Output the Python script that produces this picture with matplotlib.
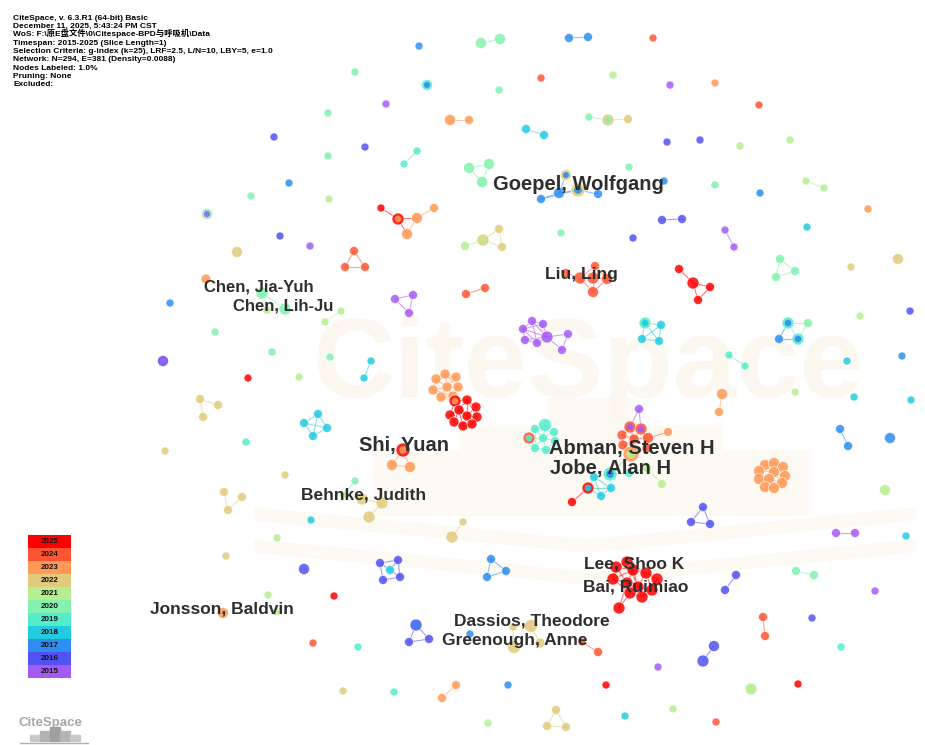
import matplotlib
matplotlib.use("Agg")
import matplotlib.pyplot as plt
from matplotlib.patches import Circle, Rectangle, Polygon

# time slices and their colours (legend, top to bottom)
years = [2025, 2024, 2023, 2022, 2021, 2020, 2019, 2018, 2017, 2016, 2015]
year_colors = ["#FF0000", "#FF5533", "#FF9955", "#E2CA7C", "#B8EE92", "#82F2AE",
               "#55ECCB", "#22CCE0", "#2E8EF0", "#5252F2", "#A65AF4"]
col = dict(zip(years, year_colors))

header = [
    "CiteSpace, v. 6.3.R1 (64-bit) Basic",
    "December 11, 2025, 5:43:24 PM CST",
    r"WoS: F:\原E盘文件\0\Citespace-BPD与呼吸机\Data",
    "Timespan: 2015-2025 (Slice Length=1)",
    "Selection Criteria: g-index (k=25), LRF=2.5, L/N=10, LBY=5, e=1.0",
    "Network: N=294, E=381 (Density=0.0088)",
    "Nodes Labeled: 1.0%",
    "Pruning: None",
    "Excluded:",
]

# node = (x, y, year, radius[, inner ring year]) in layout pixels
singles = [
    (419, 46, 2017, 4), (653, 38, 2024, 4), (427, 85, 2019, 5.5, 2017), (499, 90, 2020, 4),
    (541, 78, 2024, 4), (613, 75, 2021, 4), (670, 85, 2015, 4), (355, 72, 2020, 4),
    (386, 104, 2015, 4), (328, 113, 2020, 4), (274, 137, 2016, 4), (365, 147, 2016, 4),
    (328, 156, 2020, 4), (289, 183, 2017, 4), (251, 196, 2020, 4), (329, 199, 2021, 4),
    (207, 214, 2020, 5.5, 2015), (280, 236, 2016, 4), (310, 246, 2015, 4), (237, 252, 2022, 5.5),
    (206, 279, 2023, 5), (170, 303, 2017, 4), (215, 332, 2020, 4), (272, 352, 2020, 4),
    (330, 357, 2020, 4), (163, 361, 2016, 5.5, 2015), (248, 378, 2025, 4), (299, 377, 2021, 4),
    (667, 142, 2016, 4), (700, 140, 2016, 4), (629, 167, 2020, 4), (561, 233, 2020, 4),
    (633, 238, 2016, 4), (715, 83, 2023, 4), (759, 105, 2024, 4), (740, 146, 2021, 4),
    (790, 140, 2021, 4), (715, 185, 2020, 4), (760, 193, 2017, 4), (868, 209, 2023, 4),
    (807, 227, 2018, 4), (851, 267, 2022, 4), (898, 259, 2022, 5.5), (860, 316, 2021, 4),
    (910, 311, 2016, 4), (847, 361, 2018, 4), (902, 356, 2017, 4), (246, 442, 2019, 4),
    (165, 451, 2022, 4), (285, 475, 2022, 4), (311, 520, 2018, 4), (277, 538, 2021, 4),
    (226, 556, 2022, 4), (304, 569, 2016, 5.5), (268, 595, 2021, 4), (334, 596, 2025, 4),
    (223, 613, 2023, 5.5), (276, 612, 2021, 4), (313, 643, 2024, 4), (358, 647, 2019, 4),
    (343, 691, 2022, 4), (394, 692, 2019, 4), (470, 634, 2017, 4), (658, 667, 2015, 4),
    (508, 685, 2017, 4), (606, 685, 2025, 4), (488, 723, 2021, 4), (625, 716, 2018, 4),
    (673, 709, 2021, 4), (795, 392, 2021, 4), (854, 397, 2018, 4), (911, 400, 2018, 4),
    (890, 438, 2017, 5.5), (885, 490, 2021, 5.5), (906, 536, 2018, 4), (875, 591, 2015, 4),
    (812, 618, 2016, 4), (841, 647, 2019, 4), (751, 689, 2021, 6, 2021), (798, 684, 2025, 4),
    (716, 722, 2024, 4),
]

pairs = [
    ((481, 43, 2020, 5.5), (500, 39, 2020, 5.5)),
    ((569, 38, 2017, 4.5), (588, 37, 2017, 4.5)),
    ((450, 120, 2023, 5.5), (469, 120, 2023, 4.5)),
    ((526, 129, 2018, 4.5), (544, 135, 2018, 4.5)),
    ((417, 151, 2019, 4), (404, 164, 2019, 4)),
    ((662, 220, 2016, 4.5), (682, 219, 2016, 4.5)),
    ((466, 294, 2024, 4.5), (485, 288, 2024, 4.5)),
    ((806, 181, 2021, 4), (824, 188, 2021, 4)),
    ((725, 230, 2015, 4), (734, 247, 2015, 4)),
    ((729, 355, 2019, 4), (745, 366, 2019, 4)),
    ((371, 361, 2018, 4), (364, 378, 2018, 4)),
    ((341, 311, 2021, 4), (325, 322, 2021, 4)),
    ((722, 394, 2023, 5.5), (719, 412, 2023, 4.5)),
    ((840, 429, 2017, 4.5), (848, 446, 2017, 4.5)),
    ((836, 533, 2015, 4.5), (855, 533, 2015, 4.5)),
    ((736, 575, 2016, 4.5), (725, 590, 2016, 4.5)),
    ((796, 571, 2020, 4.5), (814, 575, 2020, 4.5)),
    ((763, 617, 2024, 4.5), (765, 636, 2024, 4.5)),
    ((714, 646, 2016, 5.5), (703, 661, 2016, 6)),
    ((456, 685, 2023, 4.5), (442, 698, 2023, 4.5)),
    ((463, 522, 2022, 4), (452, 537, 2022, 6)),
    ((582, 642, 2024, 4), (598, 652, 2024, 4.5)),
]

# small groups: (nodes, edges by local index; edge colour = first node's year)
tri_2024 = ([(354, 251, 2024, 4.5), (345, 267, 2024, 4.5), (365, 267, 2024, 4.5)],
            [(0, 1), (1, 2), (0, 2)])
red_orange = ([(381, 208, 2025, 4), (398, 219, 2025, 6, 2023), (417, 218, 2023, 5.5),
               (434, 208, 2023, 4.5), (407, 234, 2023, 5.5)],
              [(0, 1), (1, 2), (2, 3), (1, 4), (2, 4)])
khaki_top = ([(589, 117, 2020, 4), (608, 120, 2022, 6, 2020), (628, 119, 2022, 4.5)],
             [(0, 1), (1, 2)])
mint_tri = ([(469, 168, 2020, 5.5), (489, 164, 2020, 5.5), (482, 182, 2020, 5.5)],
            [(0, 1), (1, 2), (0, 2)])
goepel = ([(566, 175, 2022, 5.5, 2017), (559, 193, 2017, 5.5), (578, 190, 2022, 7, 2017),
           (541, 199, 2017, 4.5), (598, 194, 2017, 4.5), (664, 181, 2017, 4)],
          [(1, 0), (1, 2), (1, 3), (4, 2), (3, 2)])
khaki_mid = ([(483, 240, 2022, 6, 2021), (499, 229, 2022, 4.5), (502, 247, 2022, 4.5),
              (465, 246, 2021, 4.5)],
             [(0, 1), (1, 2), (0, 2), (3, 0)])
chen = ([(262, 293, 2020, 6), (285, 309, 2020, 6), (267, 310, 2021, 4)],
        [(0, 1), (0, 2)])
liu = ([(595, 266, 2024, 4.5), (580, 278, 2024, 6), (593, 278, 2024, 6), (607, 279, 2024, 5.5),
        (593, 292, 2024, 5.5), (566, 273, 2024, 4.5)],
       [(0, 2), (1, 2), (2, 3), (2, 4), (1, 4), (3, 4), (1, 5), (0, 1), (0, 3)])
red_right = ([(679, 269, 2025, 4.5), (693, 283, 2025, 6), (698, 300, 2025, 4.5), (710, 287, 2025, 4.5)],
             [(0, 1), (1, 2), (1, 3), (2, 3)])
purple_tri = ([(395, 299, 2015, 4.5), (413, 295, 2015, 4.5), (409, 313, 2015, 4.5)],
              [(0, 1), (1, 2), (0, 2)])
purple = ([(532, 321, 2015, 4.5), (543, 324, 2015, 4.5), (523, 329, 2015, 4.5), (547, 337, 2015, 6),
           (525, 340, 2015, 4.5), (537, 343, 2015, 4.5), (568, 334, 2015, 4.5), (562, 350, 2015, 4.5)],
          [(0, 1), (0, 2), (1, 3), (2, 3), (2, 4), (3, 5), (4, 5), (0, 3), (1, 2), (3, 6),
           (3, 7), (6, 7), (4, 3), (5, 2), (0, 5)])
cyan_mid = ([(645, 323, 2019, 6, 2018), (661, 325, 2018, 4.5), (642, 339, 2018, 4.5), (659, 341, 2018, 4.5)],
            [(1, 0), (2, 0), (3, 0), (1, 3), (2, 3), (1, 2)])
mint_right = ([(780, 259, 2020, 4.5), (795, 271, 2020, 4.5), (776, 277, 2020, 4.5)],
              [(0, 1), (1, 2), (0, 2)])
blue_right = ([(788, 323, 2019, 6, 2017), (808, 323, 2020, 4.5), (779, 339, 2017, 4.5), (798, 339, 2019, 6, 2017)],
              [(1, 0), (2, 0), (2, 3), (1, 3), (0, 3)])
orange_red = ([(436, 379, 2023, 5), (445, 374, 2023, 5), (456, 377, 2023, 5), (433, 390, 2023, 5),
               (447, 387, 2023, 5), (458, 387, 2023, 5), (441, 397, 2023, 5), (453, 396, 2023, 5),
               (455, 401, 2025, 6, 2023), (467, 400, 2025, 5), (476, 407, 2025, 5), (450, 415, 2025, 5),
               (459, 410, 2025, 5), (467, 416, 2025, 5), (477, 417, 2025, 5), (454, 422, 2025, 5),
               (463, 426, 2025, 5), (472, 424, 2025, 5)],
              [(0, 1), (1, 2), (0, 3), (0, 4), (1, 4), (2, 4), (2, 5), (3, 4), (4, 5), (3, 6),
               (4, 6), (4, 7), (5, 7), (6, 7), (0, 2), (1, 5), (3, 7), (6, 8), (7, 8), (7, 9),
               (8, 9), (9, 10), (8, 11), (8, 12), (9, 12), (9, 13), (10, 13), (10, 14), (11, 12),
               (12, 13), (13, 14), (11, 15), (12, 15), (12, 16), (13, 16), (13, 17), (14, 17),
               (15, 16), (16, 17), (8, 13), (9, 14)])
shi = ([(403, 450, 2025, 7, 2023), (392, 465, 2023, 5.5), (410, 467, 2023, 5.5)],
       [(1, 0), (2, 0), (1, 2)])
cyan_left = ([(318, 414, 2018, 4.5), (304, 423, 2018, 4.5), (327, 428, 2018, 4.5), (313, 436, 2018, 4.5)],
             [(0, 1), (0, 2), (1, 3), (2, 3), (0, 3), (1, 2)])
khaki_left1 = ([(200, 399, 2022, 4.5), (218, 405, 2022, 4.5), (203, 417, 2022, 4.5)],
               [(0, 1), (0, 2)])
khaki_left2 = ([(224, 492, 2022, 4.5), (242, 497, 2022, 4.5), (228, 510, 2022, 4.5)],
               [(0, 2), (1, 2)])
behnke = ([(355, 481, 2020, 4), (343, 495, 2021, 4), (362, 499, 2022, 6), (382, 503, 2022, 6),
           (369, 517, 2022, 6)],
          [(0, 1), (1, 2), (2, 3), (3, 4)])
turq = ([(545, 425, 2019, 6.5), (535, 429, 2019, 4.5), (554, 432, 2019, 4.5), (529, 438, 2024, 6, 2019),
         (543, 438, 2019, 4.5), (555, 441, 2019, 4.5), (535, 448, 2019, 4.5), (546, 450, 2019, 4.5)],
        [(0, 1), (0, 2), (0, 4), (1, 3), (1, 4), (2, 4), (2, 5), (4, 3), (6, 3), (4, 5),
         (4, 6), (4, 7), (5, 7), (6, 7), (1, 6), (0, 5)])
abman_jobe = ([(639, 409, 2015, 4.5), (630, 427, 2024, 6, 2015), (641, 429, 2024, 6, 2015),
               (622, 435, 2024, 5), (648, 438, 2024, 5.5), (634, 439, 2024, 5), (623, 445, 2024, 5),
               (631, 454, 2023, 8, 2021), (647, 448, 2024, 5), (668, 432, 2023, 4.5),
               (610, 474, 2019, 7, 2017), (629, 473, 2019, 4.5), (647, 468, 2021, 4.5),
               (662, 484, 2021, 4.5), (594, 477, 2018, 4.5), (588, 488, 2025, 6, 2018),
               (611, 488, 2018, 4.5), (601, 496, 2018, 4.5), (572, 502, 2025, 4.5)],
              [(0, 1), (0, 2), (1, 2), (1, 3), (2, 4), (1, 5), (2, 5), (3, 5), (4, 5), (3, 6),
               (5, 6), (5, 7), (6, 7), (7, 8), (4, 8), (4, 9), (10, 7), (10, 11), (10, 14),
               (10, 16), (14, 15), (14, 16), (16, 15), (16, 17), (14, 17), (17, 15), (18, 15),
               (12, 13), (11, 12)])
orange_ring = ([(765, 465, 2023, 5.5), (774, 463, 2023, 5.5), (783, 467, 2023, 5.5), (759, 471, 2023, 5.5),
                (774, 472, 2023, 5.5), (785, 476, 2023, 5.5), (759, 479, 2023, 5.5), (769, 479, 2023, 5.5),
                (782, 483, 2023, 5.5), (765, 487, 2023, 5.5), (774, 488, 2023, 5.5)],
               [(0, 1), (1, 2), (0, 3), (0, 4), (1, 4), (2, 4), (2, 5), (3, 4), (3, 6), (4, 5),
                (4, 7), (6, 7), (7, 8), (5, 8), (6, 9), (7, 9), (9, 10), (8, 10), (7, 10), (4, 8)])
indigo_tri = ([(703, 507, 2016, 4.5), (691, 522, 2016, 4.5), (710, 524, 2016, 4.5)],
              [(0, 1), (1, 2), (0, 2)])
indigo_left = ([(380, 563, 2016, 4.5), (398, 560, 2016, 4.5), (390, 570, 2018, 4.5), (383, 580, 2016, 4.5),
                (400, 577, 2016, 4.5)],
               [(0, 1), (0, 2), (1, 4), (0, 3), (3, 4), (4, 2), (1, 2)])
blue_tri = ([(491, 559, 2017, 4.5), (506, 571, 2017, 4.5), (487, 577, 2017, 4.5)],
            [(0, 1), (1, 2), (0, 2)])
lee_bai = ([(616, 567, 2025, 6), (627, 562, 2025, 6), (633, 570, 2025, 6), (646, 573, 2025, 6),
            (657, 579, 2025, 6), (613, 579, 2025, 6), (627, 583, 2025, 6), (638, 587, 2025, 6),
            (652, 590, 2025, 6), (642, 597, 2025, 6), (630, 593, 2025, 6), (619, 608, 2025, 6)],
           [(0, 1), (1, 2), (2, 3), (3, 4), (0, 5), (0, 2), (1, 3), (5, 6), (6, 7), (7, 8),
            (8, 4), (3, 8), (2, 6), (2, 7), (5, 10), (10, 9), (9, 8), (6, 10), (7, 9), (10, 11),
            (6, 11), (0, 6), (1, 7), (3, 7), (4, 9), (5, 2)])
indigo_low = ([(416, 625, 2016, 6, 2017), (409, 642, 2016, 4.5), (429, 639, 2016, 4.5)],
              [(0, 1), (0, 2), (1, 2)])
dassios = ([(531, 626, 2022, 6.5), (514, 647, 2022, 6.5), (540, 643, 2022, 5), (513, 627, 2022, 4)],
           [(0, 2), (3, 1), (0, 3)])
khaki_low = ([(556, 710, 2022, 4.5), (547, 726, 2022, 4.5), (566, 727, 2022, 4.5)],
             [(0, 1), (0, 2), (1, 2)])

groups = [tri_2024, red_orange, khaki_top, mint_tri, goepel, khaki_mid, chen, liu, red_right,
          purple_tri, purple, cyan_mid, mint_right, blue_right, orange_red, shi, cyan_left,
          khaki_left1, khaki_left2, behnke, turq, abman_jobe, orange_ring, indigo_tri,
          indigo_left, blue_tri, lee_bai, indigo_low, dassios, khaki_low]
groups += [([a, b], [(0, 1)]) for a, b in pairs]
groups += [([n], []) for n in singles]

# (label, x left, baseline, font size)
labels = [
    ("Goepel, Wolfgang", 493, 190, 14.5),
    ("Liu, Ling", 545, 279.5, 12.5),
    ("Chen, Jia-Yuh", 204, 291.5, 12.0),
    ("Chen, Lih-Ju", 233, 310.5, 12.0),
    ("Shi, Yuan", 359, 451, 14.5),
    ("Abman, Steven H", 549, 454, 14.5),
    ("Jobe, Alan H", 550, 474, 14.5),
    ("Behnke, Judith", 301, 499.5, 12.5),
    ("Lee, Shoo K", 584, 568.5, 12.5),
    ("Bai, Ruimiao", 583, 591.5, 12.5),
    ("Jonsson, Baldvin", 150, 613, 12.5),
    ("Dassios, Theodore", 454, 626, 12.5),
    ("Greenough, Anne", 442, 645, 12.5),
]

fig = plt.figure(figsize=(9.25, 7.45), dpi=100)
ax = fig.add_axes([0, 0, 1, 1])
ax.set_xlim(0, 925)
ax.set_ylim(745, 0)
ax.axis("off")

# faint CiteSpace watermark: skyline bars, open book, big word
wm = "#FDFAF3"
for x0, x1, top in [(373, 460, 450), (460, 548, 425), (548, 633, 398), (633, 722, 425), (722, 808, 450)]:
    ax.add_patch(Rectangle((x0, top), x1 - x0, 515 - top, color=wm, zorder=0))
for dy in (0, 32):
    ax.add_patch(Polygon([(255, 508 + dy), (588, 540 + dy), (915, 508 + dy), (915, 520 + dy),
                          (588, 552 + dy), (255, 520 + dy)], closed=True, color=wm, zorder=0))
ax.text(312, 397, "CiteSpace", fontsize=82, fontweight="bold", color="#FCF8F0",
        family="Liberation Sans", zorder=0)

# edges then nodes
for nodes, edges in groups:
    for i, j in edges:
        a, b = nodes[i], nodes[j]
        ax.plot([a[0], b[0]], [a[1], b[1]], color=col[a[2]], lw=0.8, alpha=0.55,
                zorder=2, solid_capstyle="round")
for nodes, edges in groups:
    for n in nodes:
        ax.add_patch(Circle((n[0], n[1]), n[3], facecolor=col[n[2]], edgecolor="white",
                            lw=0.5, alpha=0.85, zorder=3))
        if len(n) > 4:
            ax.add_patch(Circle((n[0], n[1]), n[3] * 0.55, facecolor=col[n[4]],
                                edgecolor="none", alpha=0.9, zorder=4))

for text, x, y, fs in labels:
    ax.text(x, y, text, fontsize=fs, fontweight="bold", color="#2e2e2e",
            family="Liberation Sans", va="baseline", ha="left", zorder=6)

# run info header
for k, line in enumerate(header):
    ax.text(13, 19.5 + k * 8.35, line, fontsize=6.0, fontweight="bold", color="black",
            family=["Liberation Sans", "Noto Sans CJK SC"], va="baseline", zorder=6)

# year legend
for k, (yr, c) in enumerate(zip(years, year_colors)):
    ax.add_patch(Rectangle((28, 535 + k * 13), 43, 13, facecolor=c, edgecolor="none", zorder=5))
    ax.text(49.5, 541.5 + k * 13, str(yr), fontsize=5.8, fontweight="bold", color="#111111",
            family="Liberation Sans", ha="center", va="center", zorder=6)

# small logo bottom left
ax.text(50, 726, "CiteSpace", fontsize=9.5, fontweight="bold", color="#A8A8A8",
        family="Liberation Sans", ha="center", va="baseline", zorder=6)
for x0, top, shade in [(30, 735, "#C8C8C8"), (40, 731, "#B4B4B4"), (50, 727, "#A0A0A0"),
                       (60, 731, "#B4B4B4"), (70, 735, "#C8C8C8")]:
    ax.add_patch(Rectangle((x0, top), 10, 741 - top, color=shade, zorder=5))
ax.plot([20, 88], [742.5, 742.5], color="#B0B0B0", lw=1, zorder=5)

fig.savefig("out.png", dpi=100)
